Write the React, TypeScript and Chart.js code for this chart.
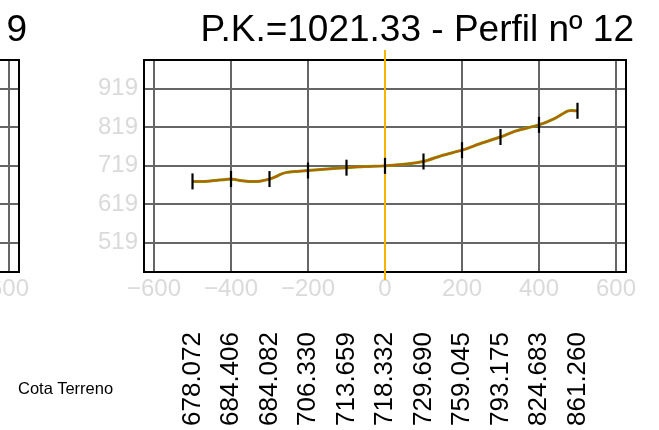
import React, { useEffect, useRef } from "react";
import { Chart, registerables } from "chart.js";

Chart.register(...registerables);

const FONT = "'Liberation Sans', Arial, Helvetica, sans-serif";

// Stations along the cross-section (m) and ground elevations (Cota Terreno)
const stations = [-500, -400, -300, -200, -100, 0, 100, 200, 300, 400, 500];
const cotaTerreno = [678.072, 684.406, 684.082, 706.33, 713.659, 718.332, 729.69, 759.045, 793.175, 824.683, 861.26];
const cotaLabels = ["678.072", "684.406", "684.082", "706.330", "713.659", "718.332", "729.690", "759.045", "793.175", "824.683", "861.260"];

// Ground profile vertices
const profileX = [-500, -480, -460, -440, -420, -400, -385, -365, -345, -325, -300, -285, -270, -255, -230, -200, -150, -100, -50, 0, 50, 100, 150, 200, 250, 300, 340, 400, 440, 476, 500];
const profileY = [678.07, 678.0, 678.6, 680.5, 682.6, 684.41, 682.0, 679.0, 677.6, 678.6, 684.08, 689.5, 697.0, 701.5, 704.0, 706.33, 710.0, 713.66, 716.4, 718.33, 722.5, 729.69, 746.0, 759.05, 777.0, 793.18, 809.0, 824.68, 841.0, 861.0, 861.26];

// Axis tick values and ranges
const xTicks = [-600, -400, -200, 0, 200, 400, 600];
const yTicks = [519, 619, 719, 819, 919];
const xRange = [-626, 626];
const yRange = [443, 993];

// Vertical axis line of the section (x = 0)
const axisLineX = [0, 0];
const axisLineY = [422, 1019];

const mainTitle = "P.K.=1021.33 - Perfil nº 12";
const prevTitle = "9";
const rowLabel = "Cota Terreno";

const framePlugin = {
  id: "frame",
  beforeDatasetsDraw(chart: any) {
    const { ctx, chartArea: a } = chart;
    ctx.save();
    ctx.strokeStyle = "#000";
    ctx.lineWidth = 2;
    ctx.strokeRect(a.left, a.top, a.right - a.left, a.bottom - a.top);
    ctx.restore();
  },
};

function fmtX(v: number) {
  return v < 0 ? "\u2212" + Math.abs(v) : String(v);
}

function Panel({ title, showData, left }: { title: string; showData: boolean; left: number }) {
  const ref = useRef<HTMLCanvasElement | null>(null);

  useEffect(() => {
    if (!ref.current) return;
    const profile = profileX.map((x, i) => ({ x, y: profileY[i] }));
    const marks = stations.map((x, i) => ({ x, y: cotaTerreno[i] }));
    const axisLine = axisLineX.map((x, i) => ({ x, y: axisLineY[i] }));

    const datasets: any[] = showData
      ? [
          {
            label: "Eje",
            data: axisLine,
            borderColor: "#f4b400",
            borderWidth: 2,
            pointRadius: 0,
            clip: false,
            order: 4,
          },
          {
            label: "Terreno",
            data: profile,
            borderColor: "#66b000",
            borderWidth: 3,
            pointRadius: 0,
            tension: 0.25,
            order: 3,
          },
          {
            label: "Terreno2",
            data: profile,
            borderColor: "#c05c08",
            borderWidth: 2,
            pointRadius: 0,
            tension: 0.25,
            order: 2,
          },
          {
            label: "Estaciones",
            data: marks,
            showLine: false,
            pointStyle: "line",
            pointRotation: 90,
            pointRadius: 8,
            pointBorderWidth: 2.2,
            pointBorderColor: "#000",
            borderColor: "#000",
            order: 1,
          },
        ]
      : [];

    const chart = new Chart(ref.current, {
      type: "line",
      data: { datasets },
      options: {
        animation: false,
        responsive: false,
        events: [],
        layout: { padding: { left: 0, right: 25, top: 0, bottom: 0 } },
        plugins: {
          legend: { display: false },
          tooltip: { enabled: false },
          title: {
            display: true,
            text: title,
            align: "end",
            color: "#000",
            font: { family: FONT, size: 37, weight: "normal" },
            padding: { top: 9, bottom: 6.6 },
          },
        },
        scales: {
          x: {
            type: "linear",
            position: "bottom",
            min: xRange[0],
            max: xRange[1],
            bounds: "data",
            weight: 0,
            afterBuildTicks: (s: any) => {
              s.ticks = xTicks.map((v) => ({ value: v }));
            },
            afterFit: (s: any) => {
              s.height = 31;
            },
            grid: { color: "#666", lineWidth: 2, drawTicks: false },
            border: { display: false },
            ticks: {
              autoSkip: false,
              maxRotation: 0,
              padding: 3,
              color: "#dadada",
              font: { family: FONT, size: 24 },
              callback: (v: any) => fmtX(Number(v)),
            },
          },
          x2: {
            type: "linear",
            position: "bottom",
            min: xRange[0],
            max: xRange[1],
            bounds: "data",
            weight: 1,
            afterBuildTicks: (s: any) => {
              s.ticks = stations.map((v) => ({ value: v }));
            },
            afterFit: (s: any) => {
              s.height = 127;
            },
            grid: { display: false, drawTicks: false },
            border: { display: false },
            ticks: {
              display: showData,
              autoSkip: false,
              minRotation: 90,
              maxRotation: 90,
              padding: 29,
              color: "#000",
              font: { family: FONT, size: 26 },
              callback: (_v: any, i: number) => cotaLabels[i],
            },
          },
          y: {
            type: "linear",
            position: "left",
            min: yRange[0],
            max: yRange[1],
            bounds: "data",
            afterBuildTicks: (s: any) => {
              s.ticks = yTicks.map((v) => ({ value: v }));
            },
            afterFit: (s: any) => {
              s.width = 144;
            },
            grid: { color: "#666", lineWidth: 2, drawTicks: false },
            border: { display: false },
            ticks: {
              padding: 6,
              color: "#dadada",
              font: { family: FONT, size: 24 },
              callback: (v: any) => String(v),
            },
          },
          yR: {
            type: "linear",
            position: "right",
            min: yRange[0],
            max: yRange[1],
            afterFit: (s: any) => {
              s.width = 8;
            },
            grid: { display: false, drawTicks: false },
            border: { display: false },
            ticks: { display: false },
          },
        },
      } as any,
      plugins: [framePlugin],
    });
    return () => chart.destroy();
  }, [title, showData]);

  return (
    <canvas
      ref={ref}
      width={659}
      height={430}
      style={{ position: "absolute", left, top: 0, width: 659, height: 430 }}
    />
  );
}

export default function App() {
  return (
    <div
      style={{
        position: "fixed",
        left: 0,
        top: 0,
        width: 659,
        height: 430,
        overflow: "hidden",
        background: "#fff",
      }}
    >
      <Panel title={prevTitle} showData={false} left={-607} />
      <Panel title={mainTitle} showData={true} left={0} />
      <div
        style={{
          position: "absolute",
          left: 18,
          top: 378,
          fontFamily: FONT,
          fontSize: 16.5,
          lineHeight: "20px",
          color: "#000",
          whiteSpace: "nowrap",
        }}
      >
        {rowLabel}
      </div>
    </div>
  );
}
